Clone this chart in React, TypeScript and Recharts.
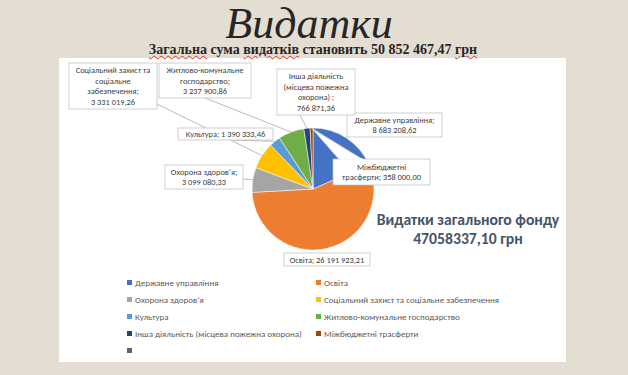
import { PieChart, Pie, Cell, Legend } from "recharts";

// categories in Excel order (first slice starts at 12 o'clock, clockwise)
const CATEGORIES = [
  "Державне управління",
  "Освіта",
  "Охорона здоров’я",
  "Соціальний захист та соціальне забезпечення",
  "Культура",
  "Житлово-комунальне господарство",
  "Інша діяльність (місцева пожежна охорона) ",
  "Міжбюджетні трасферти",
  "",
];
const VALUES = [
  8683208.62, 26191923.21, 3099080.33, 3331019.26, 1390333.46, 3237900.86,
  766871.36, 358000.0, 0,
];
const COLORS = [
  "#4472c4",
  "#ed7d31",
  "#a5a5a5",
  "#ffc000",
  "#5b9bd5",
  "#70ad47",
  "#264478",
  "#9e480e",
  "#636363",
];

const TOTAL_ALL = "50 852 467,47";
const FUND_TOTAL = "47058337,10";

const data = CATEGORIES.map((name, i) => ({ name, value: VALUES[i] }));

const BG = "#e4ddd1";
const LABEL_TEXT = "#404040";
const LEGEND_TEXT = "#595959";
const BORDER = "#bfbfbf";
const LEADER = "#a6a6a6";
const SANS = "Carlito, 'Noto Sans', sans-serif";
const SERIF = "'Liberation Serif', 'DejaVu Serif', serif";

// callout boxes (page pixels) and wrap widths in characters
const CALLOUTS: Record<
  number,
  { x: number; y: number; w: number; h: number; wrap: number; from?: [number, number]; pointer?: boolean }
> = {
  0: { x: 347, y: 113, w: 95, h: 24, wrap: 20, from: [350, 131] },
  1: { x: 284, y: 253, w: 86, h: 13, wrap: 30 },
  2: { x: 165, y: 165, w: 78, h: 24, wrap: 18, from: [243, 179] },
  3: { x: 69, y: 63, w: 88, h: 46, wrap: 20, from: [157, 104] },
  4: { x: 178, y: 128, w: 95, h: 12, wrap: 30, from: [232, 140] },
  5: { x: 159, y: 63, w: 92, h: 35, wrap: 18, from: [205, 98] },
  6: { x: 277, y: 69, w: 78, h: 46, wrap: 17, from: [300, 115] },
  7: { x: 333, y: 159, w: 97, h: 26, wrap: 21, pointer: true },
};

const RAD = Math.PI / 180;

function fmt(v: number) {
  const [int, dec] = v.toFixed(2).split(".");
  return int.replace(/\B(?=(\d{3})+(?!\d))/g, " ") + "," + dec;
}

function wrapLabel(name: string, value: number, max: number) {
  const tokens = `${name};`.split(" ").filter(Boolean);
  tokens.push(fmt(value));
  const lines: string[] = [];
  let cur = "";
  for (const t of tokens) {
    const next = cur ? cur + " " + t : t;
    if (cur && next.length > max) {
      lines.push(cur);
      cur = t;
    } else cur = next;
  }
  if (cur) lines.push(cur);
  return lines;
}

// eslint-disable-next-line @typescript-eslint/no-explicit-any
function renderLabel(props: any) {
  const { cx, cy, midAngle, outerRadius, index, name, value } = props;
  const c = CALLOUTS[index];
  if (!c) return null;
  const ex = cx + outerRadius * Math.cos(-midAngle * RAD);
  const ey = cy + outerRadius * Math.sin(-midAngle * RAD);
  const lines = wrapLabel(name, value, c.wrap);
  const lh = 10.8;
  const startY = c.y + c.h / 2 - ((lines.length - 1) * lh) / 2;
  return (
    <g key={`lbl-${index}`}>
      {c.from && (
        <line x1={c.from[0]} y1={c.from[1]} x2={ex} y2={ey} stroke={LEADER} strokeWidth={0.75} />
      )}
      {c.pointer && (
        <polygon
          points={`${ex},${ey} ${c.x + 6},${c.y + 0.5} ${c.x + 30},${c.y + 0.5}`}
          fill="#fff"
          stroke={BORDER}
          strokeWidth={0.75}
        />
      )}
      <rect x={c.x} y={c.y} width={c.w} height={c.h} fill="#fff" stroke={BORDER} strokeWidth={0.75} />
      {c.pointer && (
        <line x1={c.x + 6.5} y1={c.y} x2={c.x + 29.5} y2={c.y} stroke="#fff" strokeWidth={1.5} />
      )}
      <text
        x={c.x + c.w / 2}
        textAnchor="middle"
        fontFamily={SANS}
        fontSize={8.4}
        fill={LABEL_TEXT}
      >
        {lines.map((l, i) => (
          <tspan key={i} x={c.x + c.w / 2} y={startY + i * lh} dominantBaseline="central">
            {l}
          </tspan>
        ))}
      </text>
    </g>
  );
}

// eslint-disable-next-line @typescript-eslint/no-explicit-any
function LegendContent({ payload }: any) {
  // keep the order of the data, whatever order the payload arrives in
  const items = CATEGORIES.map((name, i) => {
    // eslint-disable-next-line @typescript-eslint/no-explicit-any
    const p = payload?.find((it: any) => it.value === name);
    return { value: name, color: p?.color ?? COLORS[i] };
  });
  return (
    <div style={{ position: "relative", width: 628, height: 375 }}>
      {items.map((it, i) => {
        const col = i % 2;
        const row = Math.floor(i / 2);
        return (
          <div
            key={i}
            style={{
              position: "absolute",
              left: col === 0 ? 127 : 316,
              top: 276 + row * 17,
              height: 12,
              display: "flex",
              alignItems: "center",
              fontFamily: SANS,
              fontSize: 9,
              color: LEGEND_TEXT,
              whiteSpace: "nowrap",
            }}
          >
            <span
              style={{
                display: "inline-block",
                width: 5,
                height: 5,
                background: it.color,
                marginRight: 3,
              }}
            />
            {it.value}
          </div>
        );
      })}
    </div>
  );
}

const wavy = {
  textDecorationLine: "underline",
  textDecorationStyle: "wavy" as const,
  textDecorationColor: "#d9322c",
  textDecorationThickness: 1,
};

export default function App() {
  return (
    <div
      style={{
        position: "absolute",
        left: 0,
        top: 0,
        width: 628,
        height: 375,
        background: BG,
        overflow: "hidden",
      }}
    >
      <div
        style={{
          position: "absolute",
          left: 59,
          top: 58,
          width: 507,
          height: 304,
          background: "#fff",
        }}
      />
      <svg
        width={628}
        height={58}
        style={{ position: "absolute", left: 0, top: 0 }}
      >
        <text
          x={309}
          y={38}
          textAnchor="middle"
          fontFamily={SERIF}
          fontStyle="italic"
          fontSize={44}
          fill="#262626"
        >
          Видатки
        </text>
      </svg>
      <div
        style={{
          position: "absolute",
          left: 0,
          width: 626,
          top: 43,
          textAlign: "center",
          fontFamily: SERIF,
          fontWeight: "bold",
          fontSize: 14,
          lineHeight: "14px",
          color: "#262626",
        }}
      >
        <span style={wavy}>Загальна</span> сума <span style={wavy}>видатків</span> становить{" "}
        {TOTAL_ALL} <span style={wavy}>грн</span>
      </div>
      <div
        style={{
          position: "absolute",
          left: 368,
          width: 200,
          top: 210,
          textAlign: "center",
          fontFamily: SANS,
          fontWeight: "bold",
          fontSize: 15.7,
          lineHeight: "19px",
          color: "#44546a",
        }}
      >
        Видатки загального фонду
        <br />
        {FUND_TOTAL} грн
      </div>
      <div style={{ position: "absolute", left: 0, top: 0 }}>
        <PieChart width={628} height={375} margin={{ top: 0, right: 0, bottom: 0, left: 0 }}>
          <Pie
            data={data}
            dataKey="value"
            nameKey="name"
            cx={313}
            cy={189}
            outerRadius={61}
            startAngle={90}
            endAngle={-270}
            stroke="#fff"
            strokeWidth={0.5}
            label={renderLabel}
            labelLine={false}
            isAnimationActive={false}
          >
            {data.map((_, i) => (
              <Cell key={i} fill={COLORS[i]} />
            ))}
          </Pie>
          <Legend
            layout="horizontal"
            verticalAlign="middle"
            align="center"
            content={<LegendContent />}
            wrapperStyle={{ left: 0, top: 0, width: 628, height: 375, pointerEvents: "none" }}
          />
        </PieChart>
      </div>
    </div>
  );
}
